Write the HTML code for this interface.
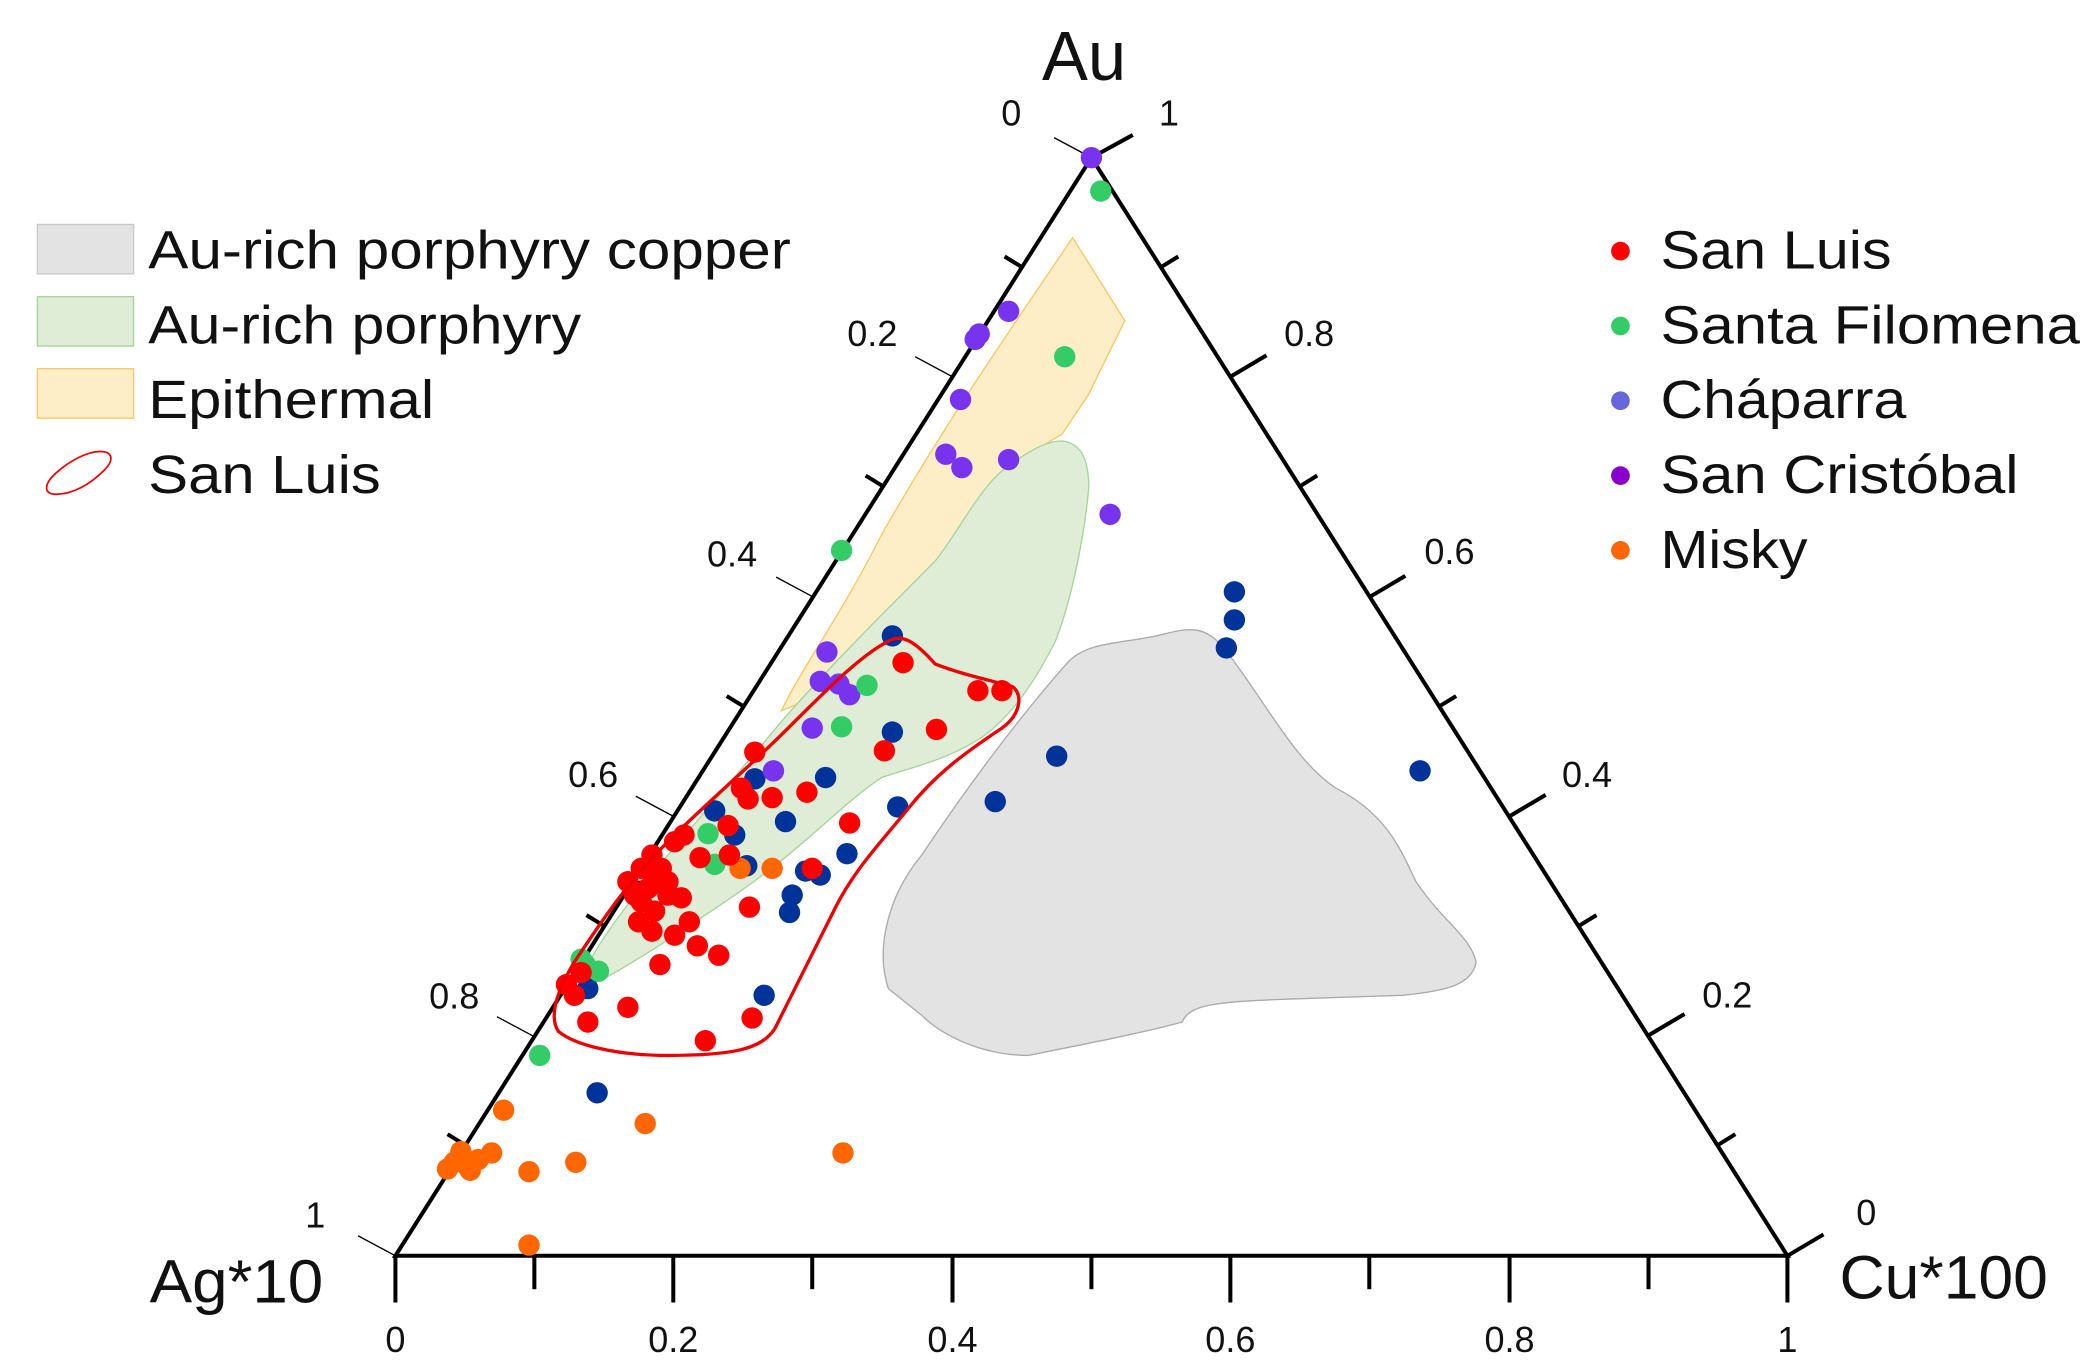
<!DOCTYPE html>
<html><head><meta charset="utf-8"><style>
html,body{margin:0;padding:0;background:#fff;}
svg{display:block;}
text{font-family:"Liberation Sans",sans-serif;fill:#111;}
</style></head><body>
<svg width="2084" height="1360" viewBox="0 0 1560 1018" preserveAspectRatio="none" xmlns="http://www.w3.org/2000/svg">
<!-- regions -->
<path d="M665,740 C655,710 665,670 690,640 C720,595 760,540 800,495 C815,480 840,482 870,475 C895,468 905,470 920,490 C950,530 970,570 1000,590 C1040,610 1050,640 1060,660 C1080,690 1100,700 1105,720 C1102,738 1080,742 1050,745 L960,748 C910,750 890,752 885,765 C860,772 820,780 770,790 C735,790 705,775 690,760 Z" fill="#e3e3e3" stroke="#aaa" stroke-width="1"/>
<path d="M803,178 L842,240 L815,295 L795,325 C770,340 750,350 740,370 C725,400 715,425 690,450 C665,480 640,500 615,520 L585,532 C600,500 630,460 660,400 C700,330 740,270 803,178 Z" fill="#fdeec8" stroke="#f5c860" stroke-width="1"/>
<path d="M795,330 C810,332 815,345 815,365 C812,400 802,450 790,480 C775,510 755,540 730,555 C705,570 680,575 660,582 C640,595 620,615 590,640 C560,665 520,690 490,710 C465,725 445,740 435,735 C440,715 470,675 500,640 C530,605 560,570 585,540 C620,500 660,460 700,420 C720,395 735,360 760,345 C775,335 785,330 795,330 Z" fill="#dfedd7" stroke="#a6d39a" stroke-width="1"/>
<!-- axes -->
<g stroke="#000" stroke-width="3" fill="none">
<path d="M817,118 L296,940 L1338,940 Z"/>
</g>
<g stroke="#000" stroke-width="3">
<line x1="296" y1="940" x2="296" y2="975"/><line x1="400" y1="940" x2="400" y2="965"/>
<line x1="504" y1="940" x2="504" y2="975"/><line x1="608" y1="940" x2="608" y2="965"/>
<line x1="713" y1="940" x2="713" y2="975"/><line x1="817" y1="940" x2="817" y2="965"/>
<line x1="921" y1="940" x2="921" y2="975"/><line x1="1025" y1="940" x2="1025" y2="965"/>
<line x1="1130" y1="940" x2="1130" y2="975"/><line x1="1234" y1="940" x2="1234" y2="965"/>
<line x1="1338" y1="940" x2="1338" y2="975"/>
<line x1="817" y1="118" x2="848" y2="101"/><line x1="869" y1="200" x2="882" y2="192"/>
<line x1="921" y1="282" x2="948" y2="266"/><line x1="973" y1="364" x2="986" y2="356"/>
<line x1="1025" y1="447" x2="1052" y2="431"/><line x1="1077" y1="529" x2="1090" y2="521"/>
<line x1="1130" y1="611" x2="1157" y2="595"/><line x1="1182" y1="693" x2="1195" y2="685"/>
<line x1="1234" y1="775" x2="1261" y2="759"/><line x1="1286" y1="857" x2="1299" y2="849"/>
<line x1="1338" y1="940" x2="1365" y2="924"/>
<line x1="765" y1="200" x2="752" y2="192"/><line x1="661" y1="364" x2="648" y2="356"/>
<line x1="557" y1="529" x2="544" y2="521"/><line x1="452" y1="693" x2="439" y2="685"/>
<line x1="348" y1="857" x2="335" y2="849"/>
</g>
<g stroke="#000" stroke-width="1">
<line x1="817" y1="118" x2="789" y2="103"/><line x1="713" y1="282" x2="685" y2="267"/>
<line x1="609" y1="447" x2="581" y2="432"/><line x1="504" y1="611" x2="476" y2="596"/>
<line x1="400" y1="776" x2="372" y2="761"/><line x1="296" y1="940" x2="268" y2="925"/>
</g>
<g font-size="27">
<text x="757" y="94" text-anchor="middle">0</text><text x="653" y="259" text-anchor="middle">0.2</text>
<text x="548" y="424" text-anchor="middle">0.4</text><text x="444" y="589" text-anchor="middle">0.6</text>
<text x="340" y="755" text-anchor="middle">0.8</text><text x="236" y="919" text-anchor="middle">1</text>
<text x="875" y="94" text-anchor="middle">1</text><text x="980" y="259" text-anchor="middle">0.8</text>
<text x="1085" y="422" text-anchor="middle">0.6</text><text x="1188" y="589" text-anchor="middle">0.4</text>
<text x="1293" y="754" text-anchor="middle">0.2</text><text x="1397" y="917" text-anchor="middle">0</text>
<text x="296" y="1012" text-anchor="middle">0</text><text x="504" y="1012" text-anchor="middle">0.2</text>
<text x="713" y="1012" text-anchor="middle">0.4</text><text x="921" y="1012" text-anchor="middle">0.6</text>
<text x="1130" y="1012" text-anchor="middle">0.8</text><text x="1338" y="1012" text-anchor="middle">1</text>
</g>
<text x="780" y="60" font-size="52" textLength="63" lengthAdjust="spacingAndGlyphs">Au</text>
<text x="112" y="975" font-size="46" textLength="130" lengthAdjust="spacingAndGlyphs">Ag*10</text>
<text x="1377" y="972" font-size="46" textLength="156" lengthAdjust="spacingAndGlyphs">Cu*100</text>
<!-- points -->
<g fill="#003399">
<circle cx="924" cy="443" r="8"/><circle cx="924" cy="464" r="8"/><circle cx="918" cy="485" r="8"/><circle cx="668" cy="476" r="8"/><circle cx="668" cy="548" r="8"/><circle cx="791" cy="566" r="8"/><circle cx="745" cy="600" r="8"/><circle cx="1063" cy="577" r="8"/><circle cx="565" cy="583" r="8"/><circle cx="618" cy="582" r="8"/><circle cx="535" cy="607" r="8"/><circle cx="550" cy="625" r="8"/><circle cx="588" cy="615" r="8"/><circle cx="672" cy="604" r="8"/><circle cx="559" cy="648" r="8"/><circle cx="603" cy="652" r="8"/><circle cx="614" cy="655" r="8"/><circle cx="634" cy="639" r="8"/><circle cx="593" cy="670" r="8"/><circle cx="591" cy="683" r="8"/><circle cx="572" cy="745" r="8"/><circle cx="440" cy="740" r="8"/><circle cx="447" cy="818" r="8"/><circle cx="480" cy="667" r="8"/>
</g>
<g fill="#7733ee">
<circle cx="817" cy="118" r="8"/><circle cx="755" cy="233" r="8"/><circle cx="733" cy="250" r="8"/><circle cx="730" cy="254" r="8"/><circle cx="719" cy="299" r="8"/><circle cx="708" cy="340" r="8"/><circle cx="720" cy="350" r="8"/><circle cx="755" cy="344" r="8"/><circle cx="831" cy="385" r="8"/><circle cx="619" cy="488" r="8"/><circle cx="614" cy="510" r="8"/><circle cx="628" cy="512" r="8"/><circle cx="636" cy="520" r="8"/><circle cx="608" cy="545" r="8"/><circle cx="579" cy="577" r="8"/>
</g>
<g fill="#33cc66">
<circle cx="824" cy="143" r="8"/><circle cx="797" cy="267" r="8"/><circle cx="630" cy="412" r="8"/><circle cx="649" cy="513" r="8"/><circle cx="630" cy="544" r="8"/><circle cx="530" cy="624" r="8"/><circle cx="535" cy="647" r="8"/><circle cx="435" cy="718" r="8"/><circle cx="448" cy="727" r="8"/><circle cx="438" cy="722" r="8"/><circle cx="404" cy="790" r="8"/>
</g>
<g fill="#ff6600">
<circle cx="377" cy="831" r="8"/><circle cx="483" cy="841" r="8"/><circle cx="631" cy="863" r="8"/><circle cx="345" cy="862" r="8"/><circle cx="340" cy="870" r="8"/><circle cx="350" cy="873" r="8"/><circle cx="358" cy="868" r="8"/><circle cx="368" cy="863" r="8"/><circle cx="335" cy="875" r="8"/><circle cx="352" cy="876" r="8"/><circle cx="396" cy="877" r="8"/><circle cx="431" cy="870" r="8"/><circle cx="396" cy="932" r="8"/><circle cx="554" cy="650" r="8"/><circle cx="578" cy="650" r="8"/>
</g>
<g fill="#ff0000">
<circle cx="676" cy="496" r="8"/><circle cx="732" cy="517" r="8"/><circle cx="750" cy="517" r="8"/><circle cx="701" cy="546" r="8"/><circle cx="662" cy="562" r="8"/><circle cx="565" cy="563" r="8"/><circle cx="555" cy="590" r="8"/><circle cx="560" cy="598" r="8"/><circle cx="578" cy="597" r="8"/><circle cx="604" cy="593" r="8"/><circle cx="636" cy="616" r="8"/><circle cx="545" cy="618" r="8"/><circle cx="512" cy="625" r="8"/><circle cx="505" cy="630" r="8"/><circle cx="524" cy="642" r="8"/><circle cx="488" cy="640" r="8"/><circle cx="480" cy="650" r="8"/><circle cx="470" cy="660" r="8"/><circle cx="490" cy="660" r="8"/><circle cx="500" cy="670" r="8"/><circle cx="480" cy="675" r="8"/><circle cx="510" cy="672" r="8"/><circle cx="490" cy="682" r="8"/><circle cx="516" cy="690" r="8"/><circle cx="488" cy="697" r="8"/><circle cx="522" cy="708" r="8"/><circle cx="505" cy="700" r="8"/><circle cx="538" cy="715" r="8"/><circle cx="494" cy="722" r="8"/><circle cx="561" cy="679" r="8"/><circle cx="608" cy="650" r="8"/><circle cx="528" cy="779" r="8"/><circle cx="470" cy="754" r="8"/><circle cx="440" cy="765" r="8"/><circle cx="430" cy="745" r="8"/><circle cx="424" cy="737" r="8"/><circle cx="435" cy="728" r="8"/><circle cx="563" cy="762" r="8"/><circle cx="546" cy="640" r="8"/><circle cx="500" cy="660" r="8"/><circle cx="485" cy="665" r="8"/><circle cx="475" cy="670" r="8"/><circle cx="495" cy="650" r="8"/><circle cx="478" cy="690" r="8"/>
</g>
<path d="M665,480 C675,474 685,480 700,497 C720,505 745,510 758,514 C766,520 764,535 750,545 C720,565 700,580 680,605 C660,630 640,650 625,680 C610,710 595,740 580,770 C570,785 550,790 500,790 C460,790 430,782 418,772 C410,760 418,740 430,720 C450,690 470,660 500,630 C530,600 560,575 590,545 C620,515 645,490 665,480 Z" fill="none" stroke="#ee0000" stroke-width="2.5"/>
<!-- legend -->
<rect x="28" y="168" width="72" height="37" fill="#e3e3e3" stroke="#c8c8c8"/>
<rect x="28" y="222" width="72" height="37" fill="#dfedd7" stroke="#a6d39a"/>
<rect x="28" y="276" width="72" height="37" fill="#fdeec8" stroke="#f5c860"/>
<path d="M75,338 C84,338 86,344 78,352 C68,362 55,370 42,370 C32,370 33,362 42,354 C52,345 65,338 75,338 Z" fill="none" stroke="#ee0000" stroke-width="1.3"/>
<g font-size="40">
<text x="111" y="201" textLength="481" lengthAdjust="spacingAndGlyphs">Au-rich porphyry  copper</text>
<text x="111" y="257" textLength="324" lengthAdjust="spacingAndGlyphs">Au-rich porphyry</text>
<text x="111" y="313" textLength="214" lengthAdjust="spacingAndGlyphs">Epithermal</text>
<text x="111" y="369" textLength="174" lengthAdjust="spacingAndGlyphs">San Luis</text>
<text x="1243" y="201" textLength="173" lengthAdjust="spacingAndGlyphs">San Luis</text>
<text x="1243" y="257" textLength="314" lengthAdjust="spacingAndGlyphs">Santa Filomena</text>
<text x="1243" y="313" textLength="184" lengthAdjust="spacingAndGlyphs">Cháparra</text>
<text x="1243" y="369" textLength="268" lengthAdjust="spacingAndGlyphs">San Cristóbal</text>
<text x="1243" y="425" textLength="110" lengthAdjust="spacingAndGlyphs">Misky</text>
</g>
<circle cx="1213" cy="188" r="7" fill="#ff0000"/>
<circle cx="1213" cy="244" r="7" fill="#33cc66"/>
<circle cx="1213" cy="300" r="7" fill="#6666dd"/>
<circle cx="1213" cy="356" r="7" fill="#8800cc"/>
<circle cx="1213" cy="412" r="7" fill="#ff6600"/>
</svg>
</body></html>
